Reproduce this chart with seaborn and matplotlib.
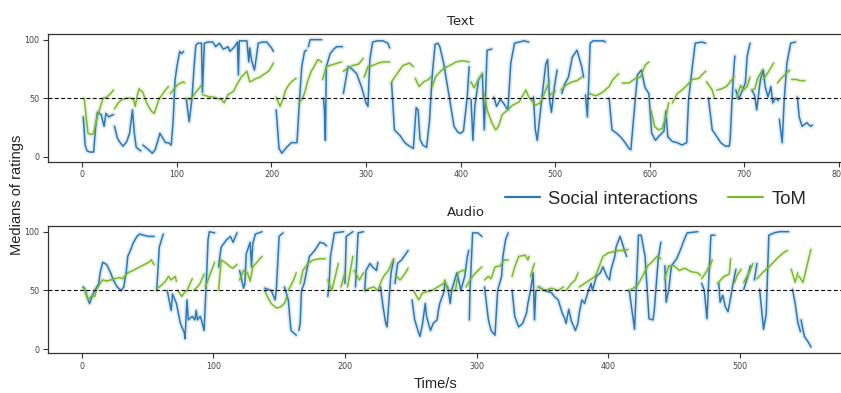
import matplotlib
matplotlib.use("Agg")
import matplotlib.pyplot as plt
import pandas as pd
import seaborn as sns
from matplotlib.lines import Line2D

# ---------------- data (time in s, median rating) ----------------
panel_titles = ["Text", "Audio"]
series_names = ["Social interactions", "ToM"]
y_ticks = [0, 50, 100]
text_x_ticks = [0, 100, 200, 300, 400, 500, 600, 700, 800]
audio_x_ticks = [0, 100, 200, 300, 400, 500]
reference_level = 50

text_social = [
    [(1,34),(3,10),(5,5),(8,4),(12,4),(14,25),(16,38),(20,36),(23,26),(25,37),(28,34),(30,35),(33,36)],
    [(34,26),(37,16),(40,12),(43,9),(47,13),(50,20),(53,40),(55,20),(57,8),(60,6),(62,5)],
    [(64,10),(67,8),(70,6),(74,3),(77,6),(80,14),(82,20),(85,16),(88,12),(91,12),(94,10),(96,30),(98,65),(100,77),(103,90),(105,88),(107,90)],
    [(110,49),(113,30),(116,50),(118,75),(120,95),(122,97),(125,97),(126,97),(127,55),(129,97),(133,98),(138,98),(141,94),
     (145,97),(149,92),(152,93),(154,94),(156,90),(161,94),(164,98),(165,70),(166,99),(170,99),(174,99),(176,81),(177,93),
     (179,82),(182,74),(184,85),(186,97),(191,98),(195,98),(200,93),(202,90)],
    [(205,40),(208,7),(211,3),(216,8),(221,12),(227,12),(229,40),(232,77),(235,90),(237,91)],
    [(239,94),(241,100),(248,100),(253,100)],
    [(255,50),(256,40),(257,14),(258,77),(262,88),(266,92),(269,94),(275,94)],
    [(276,54),(281,77),(285,75),(290,71),(295,60),(300,46),(302,43),(304,83),(307,98),(312,99),(318,99),(323,97),(325,93)],
    [(327,63),(330,23),(336,18),(341,12),(346,9),(350,7),(353,42),(355,40),(357,15),(360,10),(364,8),(367,30),(370,70),
     (373,96),(376,97),(378,94),(382,80),(388,51),(393,26),(397,21),(400,20),(403,22),(407,51),(409,77)],
    [(411,49),(413,14),(415,43),(419,66),(423,71),(425,23),(428,91),(433,92)],
    [(435,51),(438,43),(442,49),(446,45),(450,40),(453,80),(457,97),(462,98),(467,99),(472,98)],
    [(477,51),(479,23),(481,14),(486,51),(490,79),(492,83),(494,49),(496,38),(499,59),(502,74)],
    [(507,54),(510,62),(514,68),(518,85),(523,91),(528,77),(530,68)],
    [(532,53),(534,34),(537,97),(540,99),(545,99),(551,99),(553,98)],
    [(557,50),(560,23),(565,20),(569,17),(574,12),(578,7),(580,6),(583,34),(587,70),(591,74),(595,59),(599,54),(602,20),(606,14),
     (609,17),(615,22),(617,39),(619,17),(624,13),(629,12),(634,10),(639,12),(641,49),(645,77),(648,97),(655,98),(659,97)],
    [(662,50),(666,23),(671,17),(675,12),(680,9),(684,9),(685,15),(687,49),(689,77),(690,86)],
    [(691,57),(694,49),(698,57),(701,63),(703,86),(706,97)],
    [(708,57),(711,52),(713,40),(717,66),(720,74),(722,60),(725,51),(728,60),(730,46),(733,50),(736,48)],
    [(737,32),(740,12),(742,47),(745,80),(749,97),(754,98)],
    [(756,51),(758,34),(761,26),(766,29),(770,26),(772,27)],
]

text_tom = [
    [(2,50),(4,35),(6,20),(9,19),(12,20),(15,32),(17,37),(20,45),(22,50),(26,51),(30,54),(33,57)],
    [(34,41),(38,46),(42,49),(47,50),(51,50),(54,49),(56,43),(58,52),(60,58),(64,55),(68,46),(73,39),(76,37),(81,49),(87,56),(91,60)],
    [(93,54),(96,57),(100,61),(104,63),(107,64),(108,63)],
    [(110,50),(115,49),(119,54),(123,58),(126,61)],
    [(127,53),(131,52),(135,51),(139,51),(142,50),(147,49),(150,46),(154,53),(160,56),(163,61),(168,68),(174,73),(177,64),
     (180,65),(184,67),(188,68),(191,70),(195,72),(198,74),(202,80)],
    [(205,51),(209,43),(212,49),(215,57),(218,61),(221,64),(226,67)],
    [(229,46),(233,50),(236,57),(238,64),(242,73),(245,77),(249,83),(253,81)],
    [(254,66),(258,77),(262,78),(266,79),(270,80),(274,81)],
    [(276,73),(281,76),(286,78),(292,79),(297,84)],
    [(298,68),(302,77),(307,78),(313,80),(318,81),(325,81)],
    [(327,64),(332,70),(339,78),(346,80),(350,77)],
    [(352,67),(356,60),(361,64),(366,66),(368,68)],
    [(370,60),(374,69),(380,74),(386,77),(391,79),(395,81),(402,82),(409,81)],
    [(411,64),(414,59),(419,66),(423,71)],
    [(425,54),(428,40),(433,29),(437,23),(440,26),(444,36),(451,41),(455,44),(462,47),(469,57),(472,51),(479,44),(484,46),
     (488,53),(492,61),(494,64)],
    [(495,53),(500,56)],
    [(506,57),(511,61),(518,64),(523,65),(528,68)],
    [(536,54),(543,52),(550,55),(557,60),(561,66),(567,71)],
    [(571,63),(578,63),(585,67),(590,68),(595,78),(599,81)],
    [(601,40),(603,34),(605,26),(609,23),(613,24),(617,34),(620,46)],
    [(624,46),(629,54),(634,57),(638,60),(645,66),(652,67),(655,70),(659,73)],
    [(660,64),(666,57),(668,51)],
    [(671,57),(676,58),(681,60),(685,64),(689,68)],
    [(692,51),(696,61),(699,57),(703,60),(706,68)],
    [(708,57),(711,58),(714,67),(719,74)],
    [(720,66),(725,72),(731,80)],
    [(735,63),(740,68),(744,71),(748,74)],
    [(750,66),(755,66),(759,65),(764,65)],
]

audio_social = [
    [(1,53),(3,50),(4,45),(6,39),(9,48),(11,52),(13,56),(14,65),(16,74),(19,72),(22,65),(24,59),(27,53),(30,50),(32,53),
     (34,67),(35,79),(37,84),(39,90),(42,96),(44,98),(47,97),(51,96),(55,96)],
    [(57,50),(59,87),(62,98)],
    [(65,50),(68,33),(69,47),(72,39),(75,22),(78,14),(78.5,9),(80,42),(81,25),(84,28),(86,25),(87,33),(88,25),(90,28),
     (91,25),(93,16),(95,65),(96,93),(97,100),(101,99)],
    [(104,70),(105,79),(106,87),(110,93),(113,96),(115,91),(118,99)],
    [(120,67),(123,52),(124,56),(125,81),(128,91),(129,70),(130,90),(132,98),(137,100)],
    [(139,52),(144,50),(147,42),(148,53),(150,96),(153,99)],
    [(154,53),(157,42),(158,28),(159,16),(161,14),(163,12)],
    [(165,16),(166,22),(167,50),(169,56),(171,67),(173,79),(177,84),(181,91),(184,90),(186,88)],
    [(187,45),(188,56),(189,79),(192,99),(199,100)],
    [(200,56),(201,96),(206,100)],
    [(208,53),(210,99),(214,100)],
    [(215,50),(216,67),(219,73),(221,70),(224,67),(225,74)],
    [(227,53),(229,36),(231,22),(232,19),(234,50),(235,65),(237,76)],
    [(238,56),(240,73),(243,76),(248,84)],
    [(251,42),(253,25),(256,14),(257,11),(259,22),(261,39),(262,28),(265,16),(267,22),(270,25),(271,33),(272,39),(275,48),
     (276,56),(278,53),(280,39),(281,50),(285,65),(287,56),(288,50),(291,62),(293,79),(294,84)],
    [(294.5,25),(295,50),(297,99),(301,99),(304,96)],
    [(306,53),(309,25),(311,16),(314,12),(316,50),(319,62),(320,79),(322,93),(324,99)],
    [(327,50),(328,39),(329,28),(332,19),(335,22),(337,28),(338,31),(339,39),(341,50),(343,65),(344,25),(345,50)],
    [(347,53),(352,50),(357,48),(359,45),(362,42),(365,31),(367,26),(368,22),(370,34),(372,24),(374,19),(375,16),(377,22),
     (378,31),(380,42),(382,39),(385,50),(387,56),(388,50),(391,62),(394,65),(396,70),(399,62),(401,59),(402,67),(405,79),
     (406,87),(409,96),(411,89),(413,82),(414,79)],
    [(416,50),(420,17),(423,97),(425,97),(428,79),(431,26),(434,25),(435,33),(438,77),(440,91)],
    [(443,71),(444,40),(446,51),(448,71),(452,77),(455,85),(458,94),(460,99),(468,100)],
    [(471,56),(473,50),(475,26),(476,50),(478,97),(481,97)],
    [(484,56),(485,40),(487,46),(489,36),(491,32),(493,44),(495,57),(497,68)],
    [(503,51),(506,62),(508,71)],
    [(511,59),(513,73)],
    [(515,51),(518,17),(520,30),(522,97),(526,99),(530,100),(534,100),(537,100)],
    [(540,51),(542,39),(544,23),(546,15)],
    [(546.5,25),(549,11),(552,6),(554,2)],
]

audio_tom = [
    [(2,52),(3,48),(5,42),(8,46),(10,45),(11,50),(14,56),(16,59),(19,58),(22,59),(25,60),(29,61),(31,60),(35,65),(39,67),
     (44,70),(51,74),(53,76),(55,72)],
    [(57,52),(59,53),(62,56)],
    [(63,57),(66,62),(68,59),(71,62),(72,58)],
    [(73,50),(76,45),(78,48),(80,50),(84,60)],
    [(85,50),(87,52),(90,56),(93,64)],
    [(94,53),(97,62),(101,74)],
    [(104,50),(106,76),(110,73),(113,70),(115,69),(118,72)],
    [(120,59),(123,67),(125,65)],
    [(126,65),(128,58),(130,70),(137,79)],
    [(139,50),(141,45),(144,39),(148,35),(151,36),(154,39),(156,45)],
    [(157,50),(161,59),(163,65)],
    [(166,56),(168,67),(172,73),(176,76),(181,77),(185,77)],
    [(187,59),(190,50),(192,59),(195,73)],
    [(197,53),(200,65)],
    [(202,53),(206,79)],
    [(207,67),(211,59),(214,65)],
    [(215,50),(219,52),(222,53),(225,50),(228,59),(230,63),(233,67),(237,77)],
    [(239,62),(242,59),(246,65),(248,69)],
    [(252,50),(256,42),(259,48),(266,50),(275,56),(276,59),(278,50),(284,50),(286,65),(289,67),(291,67)],
    [(292,53),(295,59),(297,62),(301,67),(304,70)],
    [(306,59),(309,62),(311,60),(314,70),(318,71),(321,76),(324,76)],
    [(327,62),(329,70),(332,79),(337,80),(339,76),(340,79)],
    [(341,62),(343,70),(344,73)],
    [(347,53),(352,50),(357,52),(362,50),(366,53)],
    [(368,50),(372,56),(375,59),(377,65)],
    [(378,53),(382,56),(386,59),(390,62),(392,67),(394,73),(396,79),(400,82),(404,83),(408,84),(412,84),(415,85)],
    [(416,50),(422,54),(425,60),(430,71),(433,74),(437,79),(440,77)],
    [(443,60),(446,71),(450,71),(454,67),(458,69),(463,66),(468,65),(470,63)],
    [(471,60),(474,65),(476,69)],
    [(477,70),(479,76)],
    [(483,56),(488,62),(492,64),(493,77)],
    [(496,57),(498,63),(501,68)],
    [(503,57),(507,65),(510,73)],
    [(513,60),(518,66),(523,71),(528,77),(533,82),(536,84)],
    [(539,68),(542,57),(544,65)],
    [(545,62),(548,57),(551,71),(554,85)],
]

# ---------------- styling ----------------
BLUE = "#2c78b5"
GREEN = "#7ab929"
palette = {series_names[0]: BLUE, series_names[1]: GREEN}

sns.set_style("ticks")
plt.rcParams["font.family"] = ["DejaVu Sans"]


def to_frame(social, tom):
    rows = []
    for name, segs in ((series_names[0], social), (series_names[1], tom)):
        for i, seg in enumerate(segs):
            for t, v in seg:
                rows.append((name, f"{name}-{i}", t, v))
    return pd.DataFrame(rows, columns=["series", "seg", "t", "v"])


W, H = 841, 393
fig = plt.figure(figsize=(W / 100, H / 100), dpi=100)


def add_ax(l, t, r, b):
    return fig.add_axes([l / W, 1 - b / H, (r - l) / W, (b - t) / H])


ax1 = add_ax(47.7, 34.3, 873, 162)
ax2 = add_ax(47.7, 225.7, 884, 353.3)

panels = [
    (ax1, to_frame(text_social, text_tom), (-36.6, 836.0), (-4.5, 104.6), text_x_ticks),
    (ax2, to_frame(audio_social, audio_tom), (-25.8, 609.5), (-3.4, 105.1), audio_x_ticks),
]

for (ax, df, xlim, ylim, xt), title in zip(panels, panel_titles):
    # soft confidence-band look
    sns.lineplot(data=df, x="t", y="v", hue="series", units="seg", estimator=None,
                 palette=palette, lw=3.6, alpha=0.15, legend=False, ax=ax)
    sns.lineplot(data=df, x="t", y="v", hue="series", units="seg", estimator=None,
                 palette=palette, lw=1.1, legend=False, ax=ax)
    ax.axhline(reference_level, color="black", ls=(0, (3.5, 2.2)), lw=0.8, zorder=3)
    ax.set_xlim(*xlim)
    ax.set_ylim(*ylim)
    ax.set_xticks(xt)
    ax.set_yticks(y_ticks)
    ax.set_xlabel("")
    ax.set_ylabel("")
    ax.set_title(title, fontsize=9.5, pad=7, color="#222222")
    ax.tick_params(axis="both", labelsize=5.8, labelcolor="#444444", length=3.5, width=0.8,
                   color="#333333", pad=2.5)
    for s in ax.spines.values():
        s.set_linewidth(0.9)
        s.set_color("#333333")

fig.text(17 / W, 1 - 195 / H, "Medians of ratings", rotation=90, ha="center", va="center",
         fontsize=10.5, family=["Liberation Sans", "DejaVu Sans"], color="#222222")
fig.text(436 / W, 1 - 384 / H, "Time/s", ha="center", va="center",
         fontsize=10.5, family=["Liberation Sans", "DejaVu Sans"], color="#222222")

handles = [Line2D([], [], color=BLUE, lw=1.6), Line2D([], [], color=GREEN, lw=1.6)]
fig.legend(handles, series_names, loc="center left", bbox_to_anchor=(505 / W, 1 - 199 / H),
           ncol=2, frameon=False, borderpad=0, borderaxespad=0, handlelength=1.9,
           handletextpad=0.45, columnspacing=1.6,
           prop={"family": ["Liberation Sans", "DejaVu Sans"], "size": 13.3})

fig.savefig("out.png", dpi=100)
